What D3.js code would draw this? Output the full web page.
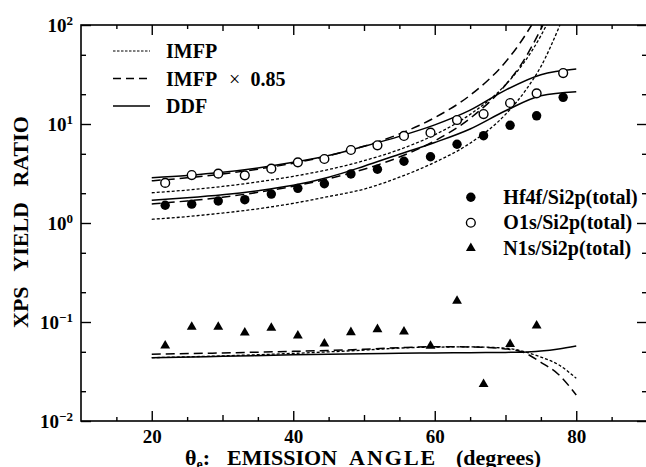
<!DOCTYPE html>
<html>
<head>
<meta charset="utf-8">
<script src="https://cdn.jsdelivr.net/npm/d3@7"></script>
<style>
  body { margin: 0; background: #fff; }
  svg text { font-family: "Liberation Serif", "DejaVu Serif", serif; font-weight: bold; fill: #000; }
</style>
</head>
<body>
<div id="chart"></div>
<script>
// Measured points (emission angle in degrees)
const pointAngles = [21.9, 25.65, 29.4, 33.15, 36.9, 40.65, 44.4, 48.15, 51.9, 55.65, 59.4, 63.15, 66.9, 70.65, 74.4, 78.15];
const hfPoints = [1.51, 1.55, 1.67, 1.72, 1.96, 2.24, 2.49, 3.13, 3.49, 4.20, 4.67, 6.24, 7.62, 9.70, 12.1, 18.6];
const oPoints = [2.54, 3.05, 3.15, 3.03, 3.54, 4.10, 4.43, 5.46, 6.09, 7.57, 8.17, 10.97, 12.6, 16.3, 20.4, 32.7];
const nPoints = [0.0576, 0.0890, 0.0890, 0.0780, 0.0870, 0.0727, 0.0604, 0.0787, 0.0844, 0.0798, 0.0573, 0.163, 0.0236, 0.0596, 0.0918];

// Model curves
const ddfAngles = [20, 25, 30, 35, 40, 45, 50, 55, 60, 65, 70, 75, 80];
const hfDdf = [1.70, 1.80, 1.93, 2.12, 2.40, 2.90, 3.75, 4.95, 6.5, 8.9, 13.6, 19.3, 21.2];
const oDdf = [2.87, 3.02, 3.25, 3.6, 4.1, 4.8, 5.95, 7.5, 9.8, 13.8, 22, 31.5, 35.9];

const hfImfpAngles = [20, 25, 30, 35, 40, 45, 50, 55, 60, 65, 70, 73, 75, 77.7];
const hfImfp = [1.09, 1.16, 1.26, 1.39, 1.58, 1.85, 2.2, 2.9, 4.1, 6.4, 12.5, 22.7, 38, 100];
const hfImfp85Angles = [20, 25, 30, 35, 40, 45, 50, 55, 60, 65, 70, 72.5, 75.3];
const hfImfp85 = [1.56, 1.67, 1.82, 2.04, 2.35, 2.8, 3.49, 4.64, 6.76, 11.4, 24.8, 43, 100];

const oImfpAngles = [20, 25, 30, 35, 40, 45, 50, 55, 60, 65, 70, 72.5, 75, 75.8];
const oImfp = [2.02, 2.15, 2.34, 2.6, 2.96, 3.47, 4.26, 5.52, 7.78, 12.5, 24.9, 40.7, 77.9, 100];
const oImfp85Angles = [20, 25, 30, 35, 40, 45, 50, 55, 60, 65, 70, 72, 73.7];
const oImfp85 = [2.67, 2.86, 3.13, 3.5, 4.02, 4.79, 5.97, 7.93, 11.6, 19.5, 42.3, 64.9, 100];

const nAngles = [20, 30, 40, 50, 55, 60, 65, 70, 72.5, 75, 77.5, 80];
const nImfp = [0.0436, 0.0455, 0.0482, 0.052, 0.0545, 0.0558, 0.056, 0.0545, 0.0505, 0.0442, 0.037, 0.027];
const nImfp85 = [0.0472, 0.0487, 0.0505, 0.053, 0.055, 0.0563, 0.056, 0.0535, 0.0495, 0.0392, 0.0295, 0.0183];
const nDdf = [0.0436, 0.0450, 0.0466, 0.0478, 0.0483, 0.0487, 0.049, 0.0493, 0.0496, 0.051, 0.0535, 0.0573];

// Ticks and labels
const xTickLabels = [20, 40, 60, 80];
const xMidTicks = [30, 50, 70];
const xMinorTicks = [15, 25, 35, 45, 55, 65, 75, 85];
const yTicks = [0.01, 0.1, 1, 10, 100];
const yTickExponents = ["\u22122", "\u22121", "0", "1", "2"];
const yMinorTicks = [0.02, 0.05, 0.2, 0.5, 2, 5, 20, 50];
const lineLegend = ["IMFP", "IMFP", "DDF"];
const pointLegend = ["Hf4f/Si2p(total)", "O1s/Si2p(total)", "N1s/Si2p(total)"];
const xTitleWords = ["EMISSION", "ANGLE", "(degrees)"];

const margin = { top: 25, right: -1, bottom: 46, left: 81 };
const W = 646, H = 467;
const width = W - margin.left - margin.right;
const height = H - margin.top - margin.bottom;

const svgRoot = d3.select("#chart").append("svg")
    .attr("width", W)
    .attr("height", H);

const svg = svgRoot.append("g")
    .attr("transform", `translate(${margin.left}, ${margin.top})`);

const xScale = d3.scaleLinear().domain([10, 90]).range([0, width]);
const yScale = d3.scaleLog().domain([0.01, 100]).range([height, 0]);

// inward ticks on all four sides
function tickAxis(axisFn, scale, values, size, translate) {
    const g = svg.append("g")
        .attr("transform", translate)
        .call(axisFn(scale).tickValues(values).tickSize(-size).tickFormat(""));
    g.select(".domain").remove();
    g.selectAll(".tick line").attr("stroke", "#000").attr("stroke-width", 1.4);
    return g;
}
[[d3.axisBottom, `translate(0,${height})`], [d3.axisTop, "translate(0,0)"]].forEach(([fn, tr]) => {
    tickAxis(fn, xScale, xTickLabels, 10, tr);
    tickAxis(fn, xScale, xMidTicks, 6, tr);
    tickAxis(fn, xScale, xMinorTicks, 4, tr);
});
[[d3.axisLeft, "translate(0,0)"], [d3.axisRight, `translate(${width},0)`]].forEach(([fn, tr]) => {
    tickAxis(fn, yScale, yTicks, 10, tr);
    tickAxis(fn, yScale, yMinorTicks, 5, tr);
});

// x tick labels
const xAx = svg.append("g")
    .attr("transform", `translate(0,${height})`)
    .call(d3.axisBottom(xScale).tickValues(xTickLabels).tickSize(0).tickPadding(9));
xAx.attr("font-family", null).attr("font-size", null);
xAx.select(".domain").remove();
xAx.selectAll("text").attr("font-size", 19).attr("fill", "#000");

// y tick labels 10^n
const yAx = svg.append("g")
    .call(d3.axisLeft(yScale).tickValues(yTicks).tickSize(0).tickPadding(8).tickFormat(""));
yAx.attr("font-family", null).attr("font-size", null);
yAx.select(".domain").remove();
yAx.selectAll(".tick text").each(function (d, i) {
    const t = d3.select(this).attr("font-size", 19).attr("fill", "#000");
    t.append("tspan").text("10");
    t.append("tspan").attr("dy", "-0.5em").attr("font-size", 13).text(yTickExponents[i]);
});

// frame
svg.append("rect")
    .attr("width", width).attr("height", height)
    .attr("fill", "none").attr("stroke", "#000").attr("stroke-width", 1.6);

// curves
svg.append("clipPath").attr("id", "plot-clip")
    .append("rect").attr("width", width).attr("height", height);
const plot = svg.append("g").attr("clip-path", "url(#plot-clip)");

const line = d3.line()
    .x(d => xScale(d[0]))
    .y(d => yScale(d[1]))
    .curve(d3.curveMonotoneX);

const dotted = "3,2", dashed = "9,5";
const curves = [
    [hfImfpAngles, hfImfp, dotted],
    [hfImfp85Angles, hfImfp85, dashed],
    [ddfAngles, hfDdf, null],
    [oImfpAngles, oImfp, dotted],
    [oImfp85Angles, oImfp85, dashed],
    [ddfAngles, oDdf, null],
    [nAngles, nImfp, dotted],
    [nAngles, nImfp85, dashed],
    [nAngles, nDdf, null]
];
curves.forEach(([ax, vals, dash]) => {
    plot.append("path")
        .datum(d3.zip(ax, vals))
        .attr("fill", "none")
        .attr("stroke", "#000")
        .attr("stroke-width", dash === dotted ? 1.3 : 1.5)
        .attr("stroke-dasharray", dash)
        .attr("d", line);
});

// measured points
const triangle = d3.symbol().type(d3.symbolTriangle).size(42);
plot.selectAll(".hf").data(d3.zip(pointAngles, hfPoints)).enter()
    .append("circle").attr("class", "hf")
    .attr("cx", d => xScale(d[0])).attr("cy", d => yScale(d[1]))
    .attr("r", 4.7).attr("fill", "#000");
plot.selectAll(".o1s").data(d3.zip(pointAngles, oPoints)).enter()
    .append("circle").attr("class", "o1s")
    .attr("cx", d => xScale(d[0])).attr("cy", d => yScale(d[1]))
    .attr("r", 4.4).attr("fill", "#fff").attr("stroke", "#000").attr("stroke-width", 1.4);
plot.selectAll(".n1s").data(d3.zip(pointAngles, nPoints)).enter()
    .append("path").attr("class", "n1s")
    .attr("transform", d => `translate(${xScale(d[0])},${yScale(d[1])})`)
    .attr("d", triangle).attr("fill", "#000");

// line-style legend (top left)
const lg = svg.append("g").attr("transform", "translate(32, 26)");
[dotted, dashed, null].forEach((dash, i) => {
    const yy = i * 27.5;
    lg.append("line")
        .attr("x1", 0).attr("x2", 37).attr("y1", yy).attr("y2", yy)
        .attr("stroke", "#000").attr("stroke-width", dash === dotted ? 1.2 : 1.5)
        .attr("stroke-dasharray", dash === dotted ? "2.5,1.5" : dash === dashed ? "8,5" : null);
    const t = lg.append("text").attr("x", 53).attr("y", yy + 7)
        .attr("font-size", 20).text(lineLegend[i]);
    if (i === 1) {
        t.append("tspan").attr("dx", 12).attr("font-weight", "normal").text("\u00d7");
        t.append("tspan").attr("dx", 10).text("0.85");
    }
});

// point legend (right)
const pg = svg.append("g").attr("transform", `translate(${xScale(65.1)}, ${yScale(1.82)})`);
pointLegend.forEach((label, i) => {
    const yy = i * 25.5;
    if (i === 0) pg.append("circle").attr("cx", 0).attr("cy", yy).attr("r", 4.7).attr("fill", "#000");
    if (i === 1) pg.append("circle").attr("cx", 0).attr("cy", yy).attr("r", 4.4)
        .attr("fill", "#fff").attr("stroke", "#000").attr("stroke-width", 1.4);
    if (i === 2) pg.append("path").attr("transform", `translate(0,${yy})`).attr("d", triangle).attr("fill", "#000");
    pg.append("text").attr("x", 32.5).attr("y", yy + 6.5)
        .attr("font-size", 20).text(label);
});

// axis titles
svgRoot.append("text")
    .attr("transform", "translate(28, 222) rotate(-90)")
    .attr("text-anchor", "middle")
    .attr("font-size", 22)
    .attr("word-spacing", 10)
    .text("XPS YIELD RATIO");

const xl = svgRoot.append("text")
    .attr("y", 465)
    .attr("font-size", 22);
xl.append("tspan").attr("x", 185).text("\u03b8");
xl.append("tspan").attr("dy", 4).attr("font-size", 14).text("e");
xl.append("tspan").attr("dy", -4).text(":");
xl.append("tspan").attr("x", 227).text(xTitleWords[0]);
xl.append("tspan").attr("x", 349).attr("letter-spacing", 2).text(xTitleWords[1]);
xl.append("tspan").attr("x", 456).text(xTitleWords[2]);
</script>
</body>
</html>
